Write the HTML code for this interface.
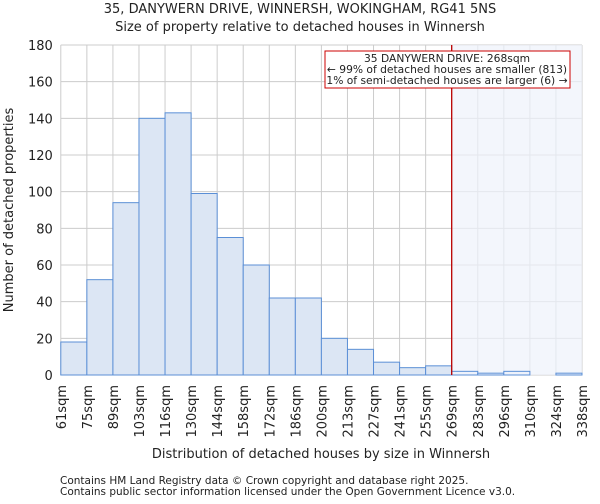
<!DOCTYPE html>
<html><head><meta charset="utf-8"><style>
body{margin:0;background:#fff;font-family:"DejaVu Sans","Liberation Sans",sans-serif;}
svg text{font-family:"DejaVu Sans","Liberation Sans",sans-serif;fill:#222;}
</style></head><body>
<svg id="chart" width="600" height="500" xmlns="http://www.w3.org/2000/svg">
<text x="300" y="13" font-size="13" text-anchor="middle">35, DANYWERN DRIVE, WINNERSH, WOKINGHAM, RG41 5NS</text>
<text x="300" y="31" font-size="13" text-anchor="middle">Size of property relative to detached houses in Winnersh</text>
<g id="grid"></g>
<rect id="hl" y="45" height="330" fill="#eef2fb" opacity="0.7"></rect>
<g id="bars"></g>
<g id="axes"></g>
<text x="321" y="458" font-size="13" text-anchor="middle">Distribution of detached houses by size in Winnersh</text>
<text transform="translate(13,210) rotate(-90)" font-size="13" text-anchor="middle">Number of detached properties</text>
<g>
<rect x="325" y="51" width="245" height="37" fill="#fff" stroke="#c00" stroke-width="1"></rect>
<text x="447" y="62" font-size="10.7" text-anchor="middle">35 DANYWERN DRIVE: 268sqm</text>
<text x="447" y="73" font-size="10.7" text-anchor="middle">← 99% of detached houses are smaller (813)</text>
<text x="447" y="84" font-size="10.7" text-anchor="middle">1% of semi-detached houses are larger (6) →</text>
</g>
<text x="60" y="484" font-size="10.5" fill="#444">Contains HM Land Registry data © Crown copyright and database right 2025.</text>
<text x="60" y="495" font-size="10.5" fill="#444">Contains public sector information licensed under the Open Government Licence v3.0.</text>
</svg>
<script>
const binLabels=["61sqm","75sqm","89sqm","103sqm","116sqm","130sqm","144sqm","158sqm","172sqm","186sqm","200sqm","213sqm","227sqm","241sqm","255sqm","269sqm","283sqm","296sqm","310sqm","324sqm","338sqm"];
const counts=[18,52,94,140,143,99,75,60,42,42,20,14,7,4,5,2,1,2,0,1];
const yTicks=[0,20,40,60,80,100,120,140,160,180];
const markerBin=15;
const NS="http://www.w3.org/2000/svg";
const x0=60.8,x1=582,y0=375,y1=45,yMax=180;
const bw=(x1-x0)/counts.length;
const xs=i=>x0+i*bw;
const ys=v=>y0-(v/yMax)*(y0-y1);
function mk(t,a,p){const e=document.createElementNS(NS,t);for(const k in a)e.setAttribute(k,a[k]);p.appendChild(e);return e;}
const grid=document.getElementById('grid'),bars=document.getElementById('bars'),axes=document.getElementById('axes');
yTicks.forEach(v=>{
 const l=mk('line',{x1:x0,x2:x1,y1:ys(v),y2:ys(v),stroke:'#ccc','stroke-width':1},grid);
 
 
 const t=mk('text',{x:x0-8,y:ys(v)+5,'font-size':13,'text-anchor':'end'},axes);
 t.textContent=v;
 
 
});
binLabels.forEach((s,i)=>{
 const l=mk('line',{x1:xs(i),x2:xs(i),y1:y1,y2:y0,stroke:'#ccc','stroke-width':1},grid);
 
 
 const t=mk('text',{transform:`translate(${xs(i)+5},${y0+10}) rotate(-90)`,'font-size':13,'text-anchor':'end'},axes);
 t.textContent=s;
 
 
});
const hl=document.getElementById('hl');hl.setAttribute('x',xs(markerBin));hl.setAttribute('width',x1-xs(markerBin));
counts.forEach((c,i)=>{
 if(c<=0)return;
 const r=mk('rect',{x:xs(i),y:ys(c),width:bw,height:y0-ys(c),fill:i>=markerBin?'#eef2fb':'#dce6f4',stroke:'#5b8fd6','stroke-width':1},bars);
 
 
});
const m=mk('line',{x1:xs(markerBin),x2:xs(markerBin),y1:y1,y2:y0,stroke:'#b00','stroke-width':1.3},axes);


</script>
</body></html>
